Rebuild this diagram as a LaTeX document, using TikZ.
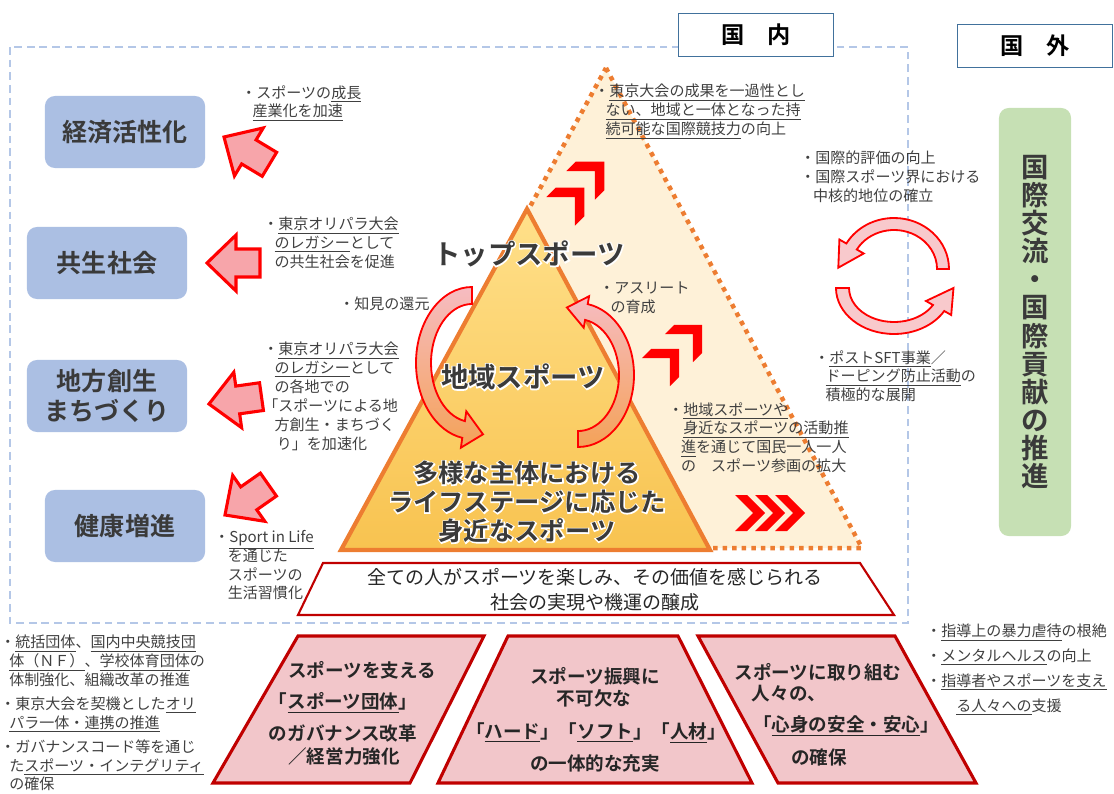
\documentclass[tikz,border=0pt]{standalone}
\usepackage{fontspec}
\setmainfont{Noto Sans CJK JP}[BoldFont={Noto Sans CJK JP Bold}]
\newfontfamily\glowfont{Noto Sans CJK JP Bold}[FakeBold=9]
\usetikzlibrary{calc}

\definecolor{txtgray}{HTML}{404040}
\definecolor{lblgray}{HTML}{3A3A3A}
\definecolor{dashblue}{HTML}{B4C7E7}
\definecolor{frameblue}{HTML}{41719C}
\definecolor{boxblue}{HTML}{ABBFE3}
\definecolor{intlgreen}{HTML}{C6E0B4}
\definecolor{pyrorange}{HTML}{ED7D31}
\definecolor{pyrcream}{HTML}{FEF1D8}
\definecolor{pyrtop}{HTML}{FFE08A}
\definecolor{pyrbottom}{HTML}{F8C350}
\definecolor{arrowpink}{HTML}{F7A5AA}
\definecolor{bendpink}{HTML}{F6BCC2}
\definecolor{bendorange}{HTML}{F4A258}
\definecolor{cyclepink}{HTML}{F8C9CC}
\definecolor{pillarred}{HTML}{C00000}
\definecolor{pillarpink}{HTML}{F2C6CA}

\newcommand\ulx[1]{\underline{#1}}
\newcommand\blockarrow[3]{\draw[pinkarrow,shift={(#1,#2)},rotate=#3] (0,0) -- (29,-28) -- (29,-14) -- (53,-14) -- (53,14) -- (29,14) -- (29,28) -- cycle;}
\newcommand\chevron[4]{\fill[red,shift={(#1,#2)},rotate=#3,scale=#4] (8,0) -- (-10,-18) -- (-22,-18) -- (-4,0) -- (-22,18) -- (-10,18) -- cycle;}

\begin{document}
\begin{tikzpicture}[x=0.025cm,y=-0.025cm,
  note/.style={anchor=north west,inner sep=0,align=left,text=txtgray,font=\fontsize{10.7}{13.4}\selectfont},
  goalbox/.style={fill=boxblue,rounded corners=7pt,minimum width=4cm,minimum height=1.8cm,inner sep=0,align=center,text=lblgray,font=\bfseries\fontsize{17.8}{21.5}\selectfont},
  areabox/.style={draw=frameblue,line width=0.9pt,fill=white,minimum width=3.875cm,minimum height=1.075cm,font=\bfseries\fontsize{16.5}{18}\selectfont},
  pinkarrow/.style={fill=arrowpink,draw=red,line width=2.2pt,line join=miter},
  bendarrow/.style={top color=bendpink,bottom color=bendorange,draw=red,line width=1.3pt},
  cyclearrow/.style={fill=cyclepink,draw=red,line width=1.3pt},
  pillar/.style={fill=pillarpink,draw=pillarred,line width=2.2pt,line join=miter},
  pillartext/.style={inner sep=0,text=black!85,font=\bfseries\fontsize{13.2}{16}\selectfont},
  lvl/.style={inner sep=0,align=center,text=lblgray,font=\bfseries\fontsize{19.5}{20}\selectfont},
  lvlglow/.style={inner sep=0,align=center,text=white,font=\glowfont\fontsize{19.5}{20}\selectfont},
  baselvl/.style={inner sep=0,align=center,text=lblgray,font=\bfseries\fontsize{18}{20.6}\selectfont},
  baselvlglow/.style={inner sep=0,align=center,text=white,font=\glowfont\fontsize{18}{20.6}\selectfont}]
\useasboundingbox (0,0) rectangle (1114,794);

\draw[dashblue,line width=1pt,dash pattern=on 5.5pt off 3.5pt] (10,47) rectangle (908,623);
\node[areabox] (dom) at (756,35) {国　内};
\node[areabox] (abroad) at (1035,46) {国　外};
\node[fill=intlgreen,rounded corners=7pt,minimum width=1.8cm,minimum height=10.7cm,inner sep=0,align=center,text=lblgray,
  font=\bfseries\fontsize{19.5}{20}\selectfont] (intl) at (1035,322)
  {国\\際\\交\\流\\・\\国\\際\\貢\\献\\の\\推\\進};

\node[goalbox] (econ) at (125,132) {経済活性化};
\node[goalbox] (symb) at (107,263) {共生社会};
\node[goalbox] (local) at (107,396) {地方創生\\まちづくり};
\node[goalbox] (health) at (125,526) {健康増進};

\blockarrow{224}{137}{-31}
\blockarrow{207}{263}{0}
\blockarrow{209}{404}{8}
\blockarrow{225}{515}{35}

\fill[pyrcream] (606,68) -- (862,548) -- (343,548) -- cycle;
\draw[pyrorange,line width=3.2pt,dash pattern=on 3.2pt off 3.6pt] (606,68) -- (862,548) -- (343,548) -- cycle;
\draw[top color=pyrtop,bottom color=pyrbottom,draw=pyrorange,line width=3pt,line join=miter] (527,209) -- (710,550) -- (341,550) -- cycle;

\chevron{578}{194}{45}{1.12}
\chevron{598}{168}{45}{1.12}
\chevron{673}{355}{45}{1.1}
\chevron{696}{331}{45}{1.1}
\chevron{757}{513}{0}{1}
\chevron{777}{513}{0}{1}
\chevron{797}{513}{0}{1}

\node[lvlglow] (topg) at (529,254) {トップスポーツ};
\node[lvl] (top) at (529,254) {トップスポーツ};
\node[lvlglow] (regiong) at (523,377) {地域スポーツ};
\node[lvl] (region) at (523,377) {地域スポーツ};
\node[baselvlglow] (lifeg) at (527,502) {多様な主体における\\ライフステージに応じた\\身近なスポーツ};
\node[baselvl] (life) at (527,502) {多様な主体における\\ライフステージに応じた\\身近なスポーツ};

\draw[bendarrow] (472,287) arc[start angle=270,end angle=100,x radius=56,y radius=76] -- (460.9,447.7) -- (483,434.3) -- (466.3,411.3) -- (464.9,421.1) arc[start angle=100,end angle=270,x radius=41,y radius=59] -- cycle;
\draw[bendarrow] (578,447) arc[start angle=90,end angle=-80,x radius=56,y radius=72] -- (589.1,296.2) -- (566.9,307.5) -- (583.7,327.7) -- (585.1,319.9) arc[start angle=-80,end angle=90,x radius=41,y radius=56] -- cycle;

\draw[cyclearrow] (949,269) arc[start angle=0,end angle=-150,x radius=55,y radius=51] -- (839.4,239.5) -- (838.3,267.7) -- (863.7,253.5) -- (856.8,249.5) arc[start angle=-150,end angle=0,x radius=43,y radius=39] -- cycle;
\draw[cyclearrow] (836,288) arc[start angle=180,end angle=30,x radius=58,y radius=46] -- (951.2,315) -- (953.5,288) -- (926,301) -- (933,305) arc[start angle=30,end angle=180,x radius=45,y radius=34] -- cycle;

\draw[fill=white,draw=pillarred,line width=1.5pt] (323,563) -- (860,563) -- (894,615) -- (298,615) -- cycle;
\node[inner sep=0,align=center,text=black!85,font=\fontsize{13.5}{17.8}\selectfont] (society) at (595,590)
  {全ての人がスポーツを楽しみ、その価値を感じられる\\社会の実現や機運の醸成};

\draw[pillar] (298,636) -- (484,636) -- (410,783) -- (213,783) -- cycle;
\draw[pillar] (508,636) -- (678,636) -- (752,783) -- (438,783) -- cycle;
\draw[pillar] (698,636) -- (895,636) -- (976,783) -- (778,783) -- cycle;
\foreach \x/\y/\t [count=\i] in {362/670/スポーツを支える, 343/703/「\ulx{スポーツ団体}」, 343/733/のガバナンス改革, 344/756/／経営力強化}
  \node[pillartext] (org\i) at (\x,\y) {\t};
\foreach \x/\y/\t [count=\i] in {595/676/スポーツ振興に, 594/698/不可欠な, 596/733/「\ulx{ハード}」「\ulx{ソフト}」「\ulx{人材}」, 595/763/の一体的な充実}
  \node[pillartext] (env\i) at (\x,\y) {\t};
\foreach \x/\y/\t [count=\i] in {818/672/スポーツに取り組む, 789/694/人々の、, 846/726/「\ulx{心身の安全・安心}」, 819/757/の確保}
  \node[pillartext] (safe\i) at (\x,\y) {\t};

\node[note] (n1) at (241,85) {・スポーツの\ulx{成長}\\\hspace*{.75em}\ulx{産業化を加速}};
\node[note] (n2) at (263,217) {・\ulx{東京オリパラ大会}\\\hspace*{.75em}\ulx{のレガシー}として\\\hspace*{.75em}の共生社会を促進};
\node[note] (n3) at (339,297) {・知見の還元};
\node[note] (n4) at (263,342) {・\ulx{東京オリパラ大会}\\\hspace*{.75em}\ulx{のレガシー}として\\\hspace*{.75em}の各地での\\「スポーツによる地\\\hspace*{.75em}方創生・まちづく\\\hspace*{.9em}り」を加速化};
\node[note] (n5) at (214,530) {・\ulx{Sport in Life}\\\hspace*{.9em}を通じた\\\hspace*{.9em}スポーツの\\\hspace*{.9em}生活習慣化};
\node[note] (n6) at (594,84) {・\ulx{東京大会の成果を一過性とし}\\\hspace*{.75em}\ulx{ない、地域と一体となった持}\\\hspace*{.75em}\ulx{続可能な国際競技力}の向上};
\node[note] (n7) at (599,282) {・アスリート\\\hspace*{.75em}の育成};
\node[note] (n8) at (668,402) {・\ulx{地域スポーツや}\\\hspace*{1em}\ulx{身近なスポーツの活動推}\\\hspace*{.85em}\ulx{進}を通じて国民一人一人\\\hspace*{.85em}の　スポーツ参画の拡大};
\node[note] (n9) at (800,151) {・国際的評価の向上\\・国際スポーツ界における\\\hspace*{.85em}中核的地位の確立};
\node[note] (n10) at (814,350) {・\ulx{ポストSFT事業}／\\\hspace*{.75em}\ulx{ドーピング防止活動}の\\\hspace*{.75em}積極的な展開};
\node[note] (n11) at (0,635) {・\ulx{統括団体}、\ulx{国内中央競技団}\\\hspace*{.6em}\ulx{体（ＮＦ）}、\ulx{学校体育団体}の\\\hspace*{.6em}体制強化、組織改革の推進\\[3.6pt]・東京大会を契機とした\ulx{オリ}\\\hspace*{.6em}\ulx{パラ一体・連携の推進}\\[3.6pt]・ガバナンスコード等を通じ\\\hspace*{.6em}た\ulx{スポーツ・インテグリティ}\\\hspace*{.6em}の確保};
\node[note,font=\fontsize{10.7}{17.6}\selectfont] (n12) at (926,624) {・\ulx{指導上の暴力虐待}の根絶\\・\ulx{メンタルヘルス}の向上\\・\ulx{指導者やスポーツを支え}\\\hspace*{2em}\ulx{る人々への}支援};
\end{tikzpicture}
\end{document}
